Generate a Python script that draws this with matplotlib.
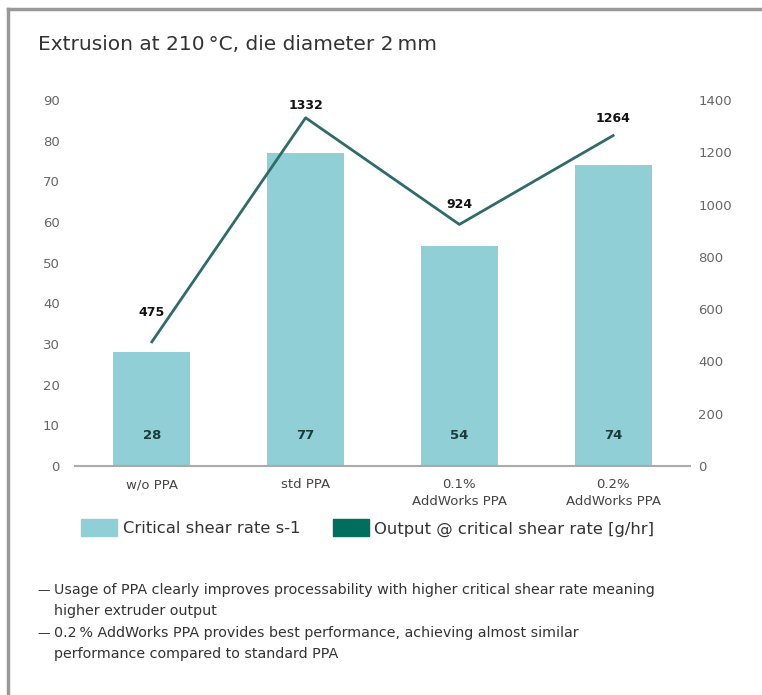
import matplotlib

matplotlib.use("Agg")
import matplotlib.pyplot as plt
from matplotlib.lines import Line2D
from matplotlib.patches import Patch

# --- data ---
categories = ["w/o PPA", "std PPA", "0.1%\nAddWorks PPA", "0.2%\nAddWorks PPA"]
shear_rate = [28, 77, 54, 74]          # left axis, bars
output_gph = [475, 1332, 924, 1264]    # right axis, line
left_ticks = list(range(0, 91, 10))
right_ticks = list(range(0, 1401, 200))

title = "Extrusion at 210\u2009°C, die diameter 2\u2009mm"
legend_labels = ["Critical shear rate s-1", "Output @ critical shear rate [g/hr]"]
notes = [
    "Usage of PPA clearly improves processability with higher critical shear rate meaning\nhigher extruder output",
    "0.2\u2009% AddWorks PPA provides best performance, achieving almost similar\nperformance compared to standard PPA",
]

BAR = "#8fcfd5"
LINE = "#2f6b6a"
DARK = "#006e5c"
TICK = "#666666"
TEXT = "#333333"

plt.rcParams["font.family"] = ["DejaVu Sans"]

W, H = 762, 695
fig = plt.figure(figsize=(W / 100, H / 100), dpi=100)


def fy(py):
    return 1 - py / H


ax = fig.add_axes([75 / W, fy(466), 615 / W, 366 / H])
x = list(range(len(categories)))
ax.bar(x, shear_rate, width=0.5, color=BAR, zorder=2)
ax.set_xlim(-0.5, 3.5)
ax.set_ylim(0, 90)
ax.set_yticks(left_ticks)
ax.set_xticks(x)
ax.set_xticklabels(categories, fontsize=9.5, linespacing=1.35)
ax.tick_params(axis="both", length=0, labelsize=9.5, labelcolor=TICK)
ax.tick_params(axis="x", pad=9, labelcolor="#444444")
ax.tick_params(axis="y", pad=11)
for s in ["top", "right", "left"]:
    ax.spines[s].set_visible(False)
ax.spines["bottom"].set_color("#aaaaaa")
ax.spines["bottom"].set_linewidth(1.5)
for xi, v in zip(x, shear_rate):
    ax.text(xi, 7.6, str(v), ha="center", va="center", fontsize=9.5,
            fontweight="bold", color="#1d3b3b", zorder=3)

ax2 = ax.twinx()
ax2.plot(x, output_gph, color=LINE, lw=2, zorder=4)
ax2.set_ylim(0, 1400)
ax2.set_yticks(right_ticks)
ax2.tick_params(axis="y", length=0, labelsize=9.5, labelcolor=TICK, pad=6)
for s in ["top", "right", "left", "bottom"]:
    ax2.spines[s].set_visible(False)
label_offsets = [21, 9, 14, 12]
for xi, v, off in zip(x, output_gph, label_offsets):
    ax2.annotate(str(v), (xi, v), xytext=(0, off), textcoords="offset points",
                 ha="center", va="center", fontsize=9, fontweight="bold", color="#111111")

fig.text(38 / W, fy(45), title, fontsize=14.5, color=TEXT, va="center", ha="left")

handles = [Patch(color=BAR), Patch(color=DARK)]
fig.legend(handles, legend_labels, loc="center left", bbox_to_anchor=(66 / W, fy(528)),
           ncol=2, frameon=False, fontsize=11.8, handlelength=2.2, handleheight=1.2,
           handletextpad=0.35, columnspacing=2.0, labelcolor=TEXT)

note_y = [590, 633]
for yy, n in zip(note_y, notes):
    fig.text(37 / W, fy(yy + 1), "\u2014", fontsize=9, color=TEXT, va="center")
    for i, line in enumerate(n.split("\n")):
        fig.text(54 / W, fy(yy + 21 * i), line, fontsize=10.3, color=TEXT, va="center")

# frame: left and top borders
fig.add_artist(Line2D([8 / W, 8 / W], [0, fy(9)], color="#999999", lw=2.5))
fig.add_artist(Line2D([8 / W, 1], [fy(9), fy(9)], color="#999999", lw=2.5))

fig.savefig("out.png", dpi=100)
